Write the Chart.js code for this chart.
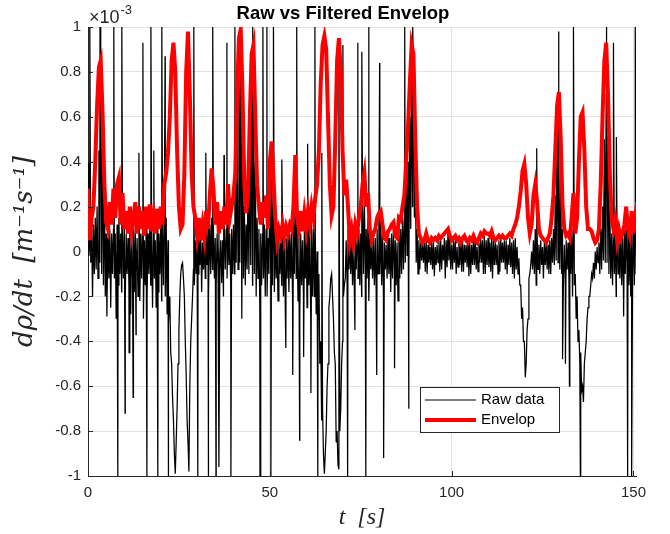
<!DOCTYPE html>
<html>
<head>
<meta charset="utf-8">
<script src="https://cdn.jsdelivr.net/npm/chart.js@4.4.0/dist/chart.umd.min.js"></script>
<style>
  html, body { margin: 0; padding: 0; background: #fff; }
</style>
</head>
<body>
<canvas id="myChart" width="670" height="534"></canvas>
<script>
// valores en unidades de 1e-3 (el eje muestra x10^-3)
const envStep = 0.5
const envelop = [
  0.28, 0.05, 0.15, 0.2, 0.4, 0.65, 0.82, 0.85, 0.62, 0.3,
  0.13, 0.1, 0.22, 0.12, 0.28, 0.15, 0.3, 0.33, 0.12, 0.26,
  0.1, 0.18, 0.08, 0.2, 0.09, 0.15, 0.22, 0.08, 0.2, 0.1,
  0.18, 0.07, 0.2, 0.1, 0.21, 0.09, 0.16, 0.08, 0.19, 0.1,
  0.2, 0.12, 0.3, 0.35, 0.44, 0.6, 0.85, 0.93, 0.8, 0.45,
  0.2, 0.1, 0.12, 0.35, 0.8, 0.98, 0.7, 0.35, 0.2, 0.15,
  0.07, 0.15, 0.05, 0.12, 0.06, 0.18, 0.1, 0.25, 0.37, 0.28,
  0.12, 0.22, 0.08, 0.18, 0.1, 0.2, 0.12, 0.3, 0.15, 0.2,
  0.25, 0.35, 0.7, 0.95, 0.99, 0.7, 0.3, 0.17, 0.25, 0.6,
  0.88, 0.92, 0.6, 0.3, 0.2, 0.12, 0.22, 0.15, 0.25, 0.1,
  0.4, 0.49, 0.33, 0.15, 0.05, 0.1, 0.07, 0.12, 0.06, 0.11,
  0.08, 0.12, 0.1, 0.2, 0.43, 0.15, 0.1, 0.18, 0.09, 0.17,
  0.1, 0.18, 0.12, 0.2, 0.15, 0.24, 0.3, 0.45, 0.75, 0.92,
  0.96, 0.9, 0.6, 0.3, 0.16, 0.2, 0.5, 0.85, 0.95, 0.8,
  0.45, 0.25, 0.32, 0.2, 0.05, 0.1, 0.04, 0.12, 0.08, 0.15,
  0.2, 0.3, 0.35, 0.2, 0.26, 0.1, 0.05, 0.08, 0.1, 0.15,
  0.17, 0.18, 0.12, 0.06, 0.05, 0.09, 0.1, 0.12, 0.13, 0.07,
  0.06, 0.15, 0.14, 0.2, 0.25, 0.4, 0.55, 0.75, 0.92, 0.88,
  0.5, 0.2, 0.08, 0.06, 0.04, 0.05, 0.08, 0.05, 0.04, 0.06,
  0.05, 0.06, 0.05, 0.07, 0.06, 0.07, 0.08, 0.09, 0.1, 0.07,
  0.05, 0.06, 0.07, 0.05, 0.06, 0.04, 0.06, 0.07, 0.05, 0.04,
  0.06, 0.05, 0.07, 0.05, 0.04, 0.06, 0.08, 0.07, 0.09, 0.08,
  0.08, 0.07, 0.09, 0.06, 0.05, 0.06, 0.07, 0.06, 0.07, 0.06,
  0.06, 0.07, 0.08, 0.07, 0.1, 0.12, 0.15, 0.2, 0.27, 0.36,
  0.39, 0.3, 0.15, 0.08, 0.12, 0.25, 0.3, 0.22, 0.1, 0.07,
  0.06, 0.05, 0.04, 0.06, 0.08, 0.15, 0.25, 0.45, 0.65, 0.71,
  0.5, 0.2, 0.1, 0.07, 0.08, 0.06, 0.15, 0.26, 0.08, 0.15,
  0.4, 0.6, 0.62, 0.45, 0.2, 0.1, 0.1, 0.09, 0.06, 0.04,
  0.05, 0.1, 0.3, 0.6, 0.85, 0.93, 0.7, 0.35, 0.15, 0.1,
  0.14, 0.05, 0.1, 0.06, 0.08, 0.12, 0.2, 0.1, 0.07, 0.18,
  0.08, 0.15, 0.22
]

// banda del dato crudo: rawHi en t = 0, 0.5, 1..., rawLo en t + 0.25
const rawStep = 0.5
const rawHi = [
  0.4, 0.05, 0.1, 0.12, 0.15, 0.2, 0.45, 0.7, 0.6, 0.3,
  0.08, 0.06, 0.1, 0.08, 0.1, 0.08, 0.12, 0.15, 0.08, 0.1,
  0.1, 0.08, 0.06, 0.1, 0.08, 0.1, 0.12, 0.06, 0.1, 0.08,
  0.1, 0.05, 0.1, 0.08, 0.1, 0.06, 0.1, 0.05, 0.1, 0.08,
  0.12, 0.1, 0.2, 0.15, 0.05, -0.2, -0.5, -0.75, -0.99, -0.7,
  -0.35, -0.1, -0.05, -0.2, -0.55, -0.85, -0.6, -0.3, -0.08, 0.05,
  0.05, 0.06, 0.08, 0.04, 0.05, 0.08, 0.1, 0.12, 0.15, 0.1,
  0.06, 0.08, 0.08, 0.05, 0.05, 0.08, 0.1, 0.12, 0.08, 0.1,
  0.12, 0.2, 0.5, 0.8, 0.95, 0.6, 0.2, 0.12, 0.3, 0.5,
  0.85, 0.8, 0.4, 0.15, 0.1, 0.08, 0.08, 0.12, 0.1, 0.06,
  0.35, 0.4, 0.25, 0.1, 0.05, 0.06, 0.04, 0.08, 0.05, 0.06,
  0.06, 0.08, 0.08, 0.12, 0.35, 0.1, 0.06, 0.08, 0.05, 0.1,
  0.08, 0.1, 0.07, 0.12, 0.1, 0.08, 0.0, -0.1, -0.4, -0.7,
  -0.99, -0.8, -0.5, -0.2, -0.1, -0.3, -0.5, -0.8, -0.97, -0.7,
  -0.4, -0.15, 0.05, 0.1, 0.04, 0.06, 0.03, 0.08, 0.05, 0.1,
  0.08, 0.2, 0.25, 0.1, 0.15, 0.06, 0.04, 0.06, 0.06, 0.1,
  0.12, 0.15, 0.08, 0.04, 0.03, 0.06, 0.06, 0.08, 0.1, 0.05,
  0.04, 0.1, 0.1, 0.15, 0.15, 0.3, 0.4, 0.6, 0.9, 0.8,
  0.4, 0.1, 0.05, 0.04, 0.03, 0.05, 0.05, 0.03, 0.02, 0.05,
  0.04, 0.02, 0.03, 0.05, 0.05, 0.03, 0.06, 0.05, 0.09, 0.06,
  0.03, 0.05, 0.05, 0.02, 0.04, 0.06, 0.05, 0.03, 0.03, 0.05,
  0.04, 0.03, 0.05, 0.06, 0.02, 0.04, 0.06, 0.05, 0.07, 0.05,
  0.06, 0.04, 0.07, 0.05, 0.04, 0.03, 0.05, 0.06, 0.04, 0.05,
  0.05, 0.03, 0.06, 0.04, 0.05, 0.06, 0.02, -0.03, -0.15, -0.25,
  -0.4, -0.5, -0.3, -0.1, 0.0, 0.05, 0.1, 0.08, 0.03, 0.05,
  0.02, 0.04, 0.04, 0.03, 0.05, 0.06, 0.1, 0.25, 0.6, 0.5,
  0.3, 0.1, 0.03, 0.05, 0.04, 0.06, 0.1, 0.15, -0.1, -0.2,
  -0.35, -0.45, -0.6, -0.5, -0.4, -0.25, -0.2, -0.1, -0.05, 0.0,
  0.02, 0.04, 0.1, 0.2, 0.5, 0.7, 0.6, 0.2, 0.08, 0.1,
  0.1, 0.06, 0.05, 0.08, 0.06, 0.1, 0.15, 0.1, 0.05, 0.12,
  0.15, 0.2
]
const rawLo = [
  -0.02, -0.05, -0.2, -0.1, -0.08, -0.12, -0.05, -0.1, -0.15, -0.2,
  -0.2, -0.12, -0.25, -0.1, -0.12, -0.3, -0.15, -0.1, -0.18, -0.12,
  -0.22, -0.1, -0.15, -0.28, -0.12, -0.18, -0.1, -0.2, -0.22, -0.12,
  -0.3, -0.15, -0.2, -0.1, -0.15, -0.25, -0.12, -0.25, -0.18, -0.1,
  -0.22, -0.15, -0.2, -0.28, -0.32, -0.45, -0.65, -0.9, -0.85, -0.5,
  -0.2, -0.06, -0.12, -0.4, -0.75, -0.98, -0.4, -0.2, -0.15, -0.1,
  -0.1, -0.06, -0.18, -0.08, -0.12, -0.06, -0.2, -0.1, -0.08, -0.12,
  -0.15, -0.06, -0.1, -0.14, -0.2, -0.08, -0.12, -0.06, -0.16, -0.1,
  -0.1, -0.05, -0.08, -0.05, -0.1, -0.12, -0.15, -0.08, -0.1, -0.06,
  -0.15, -0.1, -0.2, -0.12, -0.25, -0.15, -0.12, -0.2, -0.2, -0.1,
  -0.1, -0.15, -0.18, -0.12, -0.22, -0.1, -0.15, -0.2, -0.25, -0.12,
  -0.18, -0.12, -0.2, -0.1, -0.12, -0.22, -0.28, -0.15, -0.2, -0.12,
  -0.25, -0.15, -0.3, -0.2, -0.2, -0.28, -0.3, -0.5, -0.75, -0.9,
  -0.9, -0.6, -0.25, -0.12, -0.2, -0.45, -0.85, -0.95, -0.8, -0.5,
  -0.2, -0.12, -0.15, -0.08, -0.1, -0.15, -0.18, -0.08, -0.12, -0.15,
  -0.2, -0.1, -0.1, -0.12, -0.22, -0.08, -0.12, -0.15, -0.18, -0.1,
  -0.1, -0.15, -0.2, -0.08, -0.12, -0.1, -0.18, -0.12, -0.08, -0.15,
  -0.22, -0.12, -0.1, -0.08, -0.05, -0.02, -0.1, 0.1, 0.2, 0.15,
  -0.05, -0.1, -0.08, -0.04, -0.05, -0.09, -0.1, -0.05, -0.06, -0.08,
  -0.11, -0.06, -0.05, -0.09, -0.08, -0.04, -0.12, -0.07, -0.04, -0.08,
  -0.08, -0.05, -0.1, -0.07, -0.06, -0.09, -0.09, -0.05, -0.07, -0.11,
  -0.1, -0.06, -0.06, -0.08, -0.09, -0.05, -0.05, -0.1, -0.1, -0.06,
  -0.07, -0.09, -0.12, -0.06, -0.06, -0.1, -0.09, -0.05, -0.05, -0.08,
  -0.1, -0.06, -0.07, -0.1, -0.12, -0.08, -0.1, -0.15, -0.3, -0.4,
  -0.56, -0.35, -0.12, -0.06, -0.08, -0.1, -0.15, -0.08, -0.1, -0.06,
  -0.12, -0.06, -0.08, -0.1, -0.1, -0.05, -0.06, -0.04, -0.05, -0.08,
  -0.1, -0.12, -0.15, -0.08, -0.12, -0.1, -0.2, -0.15, -0.3, -0.4,
  -0.5, -0.62, -0.67, -0.45, -0.3, -0.2, -0.15, -0.12, -0.12, -0.08,
  -0.05, -0.1, -0.08, -0.04, -0.05, -0.05, -0.1, -0.12, -0.15, -0.1,
  -0.2, -0.1, -0.12, -0.15, -0.18, -0.1, -0.1, -0.15, -0.2, -0.12,
  -0.15, -0.1
]

// picos sueltos del dato crudo
const upT = [0.5, 3.3, 7.1, 9.3, 14.0, 15.1, 17.3, 18.1, 20.3, 21.2,
  29.1, 32.4, 34.3, 37.4, 38.2, 40.4, 42.0, 42.6, 45.3, 48.1,
  49.2, 51.0, 53.3, 57.4, 60.4, 62.4, 64.3, 69.0, 70.1, 74.2,
  75.3, 77.2, 80.2, 87.1, 89.3, 123.4, 129.4, 133.5, 142.6, 144.5,
  145.3, 150.5]
const upY = [1, 1, 1, 1, 0.44, 0.93, 1, 0.45, 1, 0.87,
  1, 0.44, 1, 0.43, 0.93, 1, 1, 0.45, 1, 1,
  1, 1, 0.41, 1, 0.48, 1, 0.44, 0.9, 0.92, 0.93,
  0.89, 1, 0.84, 1, 1, 0.46, 0.98, 1, 1, 0.93,
  0.51, 1]
const downT = [5.2, 8.2, 10.2, 11.3, 12.4, 13.2, 16.2, 19.2, 22.0, 30.2,
  33.0, 35.2, 36.0, 39.3, 42.3, 47.3, 50.3, 54.4, 56.3, 58.2,
  59.3, 61.3, 63.2, 71.4, 73.4, 76.4, 79.4, 81.3, 84.3, 88.2,
  130.5, 131.3, 132.4, 135.4, 147.3, 148.4, 149.5]
const downY = [-0.29, -1, -0.72, -0.45, -0.65, -0.37, -1, -1, -1, -1,
  -1, -1, -0.96, -1, -0.3, -1, -1, -0.43, -0.55, -0.84,
  -0.47, -0.63, -1, -1, -0.35, -1, -0.55, -0.92, -0.52, -0.7,
  -0.48, -0.5, -0.6, -1, -0.29, -1, -1]

const xTicks = [0, 50, 100, 150]
const yTicks = [-1, -0.8, -0.6, -0.4, -0.2, 0, 0.2, 0.4, 0.6, 0.8, 1]

// armar las series
const rawPts = []
rawHi.forEach((v, i) => {
  rawPts.push({ x: i * rawStep, y: v })
  rawPts.push({ x: i * rawStep + rawStep / 2, y: rawLo[i] })
})
upT.forEach((t, i) => rawPts.push({ x: t, y: upY[i] }))
downT.forEach((t, i) => rawPts.push({ x: t, y: downY[i] }))
rawPts.sort((a, b) => a.x - b.x)

const envPts = envelop.map((v, i) => ({ x: i * envStep, y: v }))

const ejeColor = '#262626'
const gridColor = '#e3e3e3'
const tickFont = { family: "'Liberation Sans', Arial, sans-serif", size: 15 }

const decoraciones = {
  id: 'decoraciones',
  afterDraw (chart) {
    const { ctx, chartArea: a, scales } = chart
    ctx.save()
    // ticks hacia dentro, estilo matlab
    ctx.strokeStyle = ejeColor
    ctx.lineWidth = 1
    ctx.beginPath()
    yTicks.forEach(v => {
      const y = Math.round(scales.y.getPixelForValue(v)) + 0.5
      ctx.moveTo(a.left, y)
      ctx.lineTo(a.left + 5, y)
    })
    xTicks.forEach(v => {
      const x = Math.round(scales.x.getPixelForValue(v)) + 0.5
      ctx.moveTo(x, a.bottom)
      ctx.lineTo(x, a.bottom - 5)
    })
    ctx.stroke()

    // titulo
    ctx.fillStyle = '#000'
    ctx.font = "bold 18.5px 'Liberation Sans', Arial, sans-serif"
    ctx.textAlign = 'center'
    ctx.textBaseline = 'middle'
    ctx.fillText('Raw vs Filtered Envelop', 343, 14)

    // multiplicador x10^-3
    ctx.fillStyle = ejeColor
    ctx.textAlign = 'left'
    ctx.textBaseline = 'alphabetic'
    ctx.font = "18px 'Liberation Sans', Arial, sans-serif"
    ctx.fillText('\u00d710', a.left + 1, 23)
    const w = ctx.measureText('\u00d710').width
    ctx.font = "13px 'Liberation Sans', Arial, sans-serif"
    ctx.fillText('-3', a.left + 2 + w, 14)

    // leyenda
    const bx = 420, by = 387, bw = 139, bh = 45
    ctx.fillStyle = '#fff'
    ctx.fillRect(bx, by, bw, bh)
    ctx.strokeStyle = ejeColor
    ctx.lineWidth = 1
    ctx.strokeRect(bx + 0.5, by + 0.5, bw, bh)
    ctx.font = "15px 'Liberation Sans', Arial, sans-serif"
    ctx.textBaseline = 'middle'
    chart.data.datasets.forEach((ds, i) => {
      const y = by + 13 + i * 20
      ctx.strokeStyle = ds.borderColor
      ctx.lineWidth = i === 0 ? 1 : ds.borderWidth
      ctx.beginPath()
      ctx.moveTo(bx + 5, y)
      ctx.lineTo(bx + 56, y)
      ctx.stroke()
      ctx.fillStyle = '#000'
      ctx.fillText(ds.label, bx + 61, y)
    })
    ctx.restore()
  }
}

const ctx = document.getElementById('myChart').getContext('2d')
const myChart = new Chart(ctx, {
  type: 'line',
  data: {
    datasets: [
      {
        label: 'Raw data',
        data: rawPts,
        borderColor: '#000000',
        borderWidth: 1.25,
        pointRadius: 0,
        tension: 0,
        order: 2,
      },
      {
        label: 'Envelop',
        data: envPts,
        borderColor: '#ff0000',
        borderWidth: 4,
        pointRadius: 0,
        tension: 0,
        order: 1,
      },
    ],
  },
  options: {
    responsive: false,
    animation: false,
    devicePixelRatio: 1,
    layout: { padding: { left: 0, right: 34, top: 27, bottom: 0 } },
    plugins: {
      legend: { display: false },
      title: { display: false },
      tooltip: { enabled: false },
    },
    scales: {
      x: {
        type: 'linear',
        min: 0,
        max: 150.7,
        afterBuildTicks: s => { s.ticks = xTicks.map(v => ({ value: v })) },
        afterFit: s => { s.height = 58 },
        ticks: { font: tickFont, color: ejeColor, padding: 8, maxRotation: 0 },
        grid: { color: gridColor, drawTicks: false },
        border: { color: ejeColor },
        title: {
          display: true,
          text: 't  [s]',
          font: { family: "'Liberation Serif', serif", size: 24, style: 'italic' },
          color: ejeColor,
          padding: { top: 0, bottom: 2 },
        },
      },
      y: {
        min: -1,
        max: 1,
        afterBuildTicks: s => { s.ticks = yTicks.map(v => ({ value: v })) },
        afterFit: s => { s.width = 88 },
        ticks: { font: tickFont, color: ejeColor, padding: 7, callback: v => String(+v.toFixed(1)) },
        grid: { color: gridColor, drawTicks: false },
        border: { color: ejeColor },
        title: {
          display: true,
          text: 'd\u03c1/dt  [m\u207b\u00b9s\u207b\u00b9]',
          font: { family: "'DejaVu Serif', serif", size: 26, style: 'italic' },
          color: ejeColor,
          padding: { top: 10, bottom: 0 },
        },
      },
    },
  },
  plugins: [decoraciones],
})
</script>
</body>
</html>
